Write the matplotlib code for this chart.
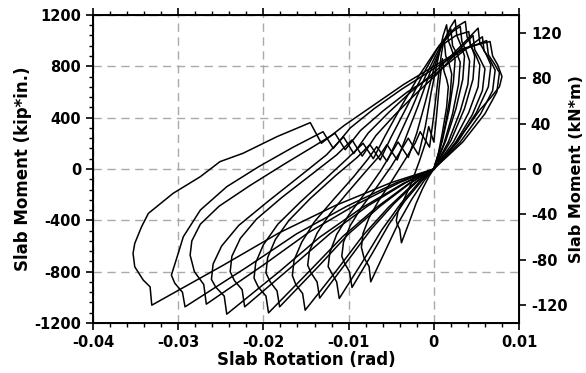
import matplotlib
matplotlib.use("Agg")
import matplotlib.pyplot as plt
from matplotlib.ticker import MultipleLocator, FixedLocator

plt.rcParams['font.family'] = ['DejaVu Sans']
plt.rcParams['font.weight'] = 'bold'
plt.rcParams['axes.unicode_minus'] = False

loop01_rot = [0, -0.00057, -0.00133, -0.00209, -0.00285, -0.0038, -0.0040, -0.0043, -0.0044,
              -0.0042, -0.0036, -0.0027, -0.0017, -0.0010, -0.0006, 0.0000, 0.0003, 0.0006, 0.0010,
              0.0012, 0.0015, 0.0017, 0.0015, 0.0010, 0.0005, 0]
loop01_mom = [0, -58, -155, -270, -408, -575, -470, -430, -400,
              -330, -250, -120, 60, 200, 330, 210, 400, 620, 860,
              760, 700, 640, 480, 280, 110, 0]

loop02_rot = [0, -0.0011, -0.0026, -0.0041, -0.0056, -0.0074, -0.0076, -0.0082, -0.0085,
              -0.0083, -0.0076, -0.0065, -0.0050, -0.0033, -0.0022, -0.0016, -0.0005, 0.0000, 0.0005,
              0.0009, 0.0012, 0.0014, 0.0018, 0.0021, 0.0019, 0.0014, 0.0007, 0]
loop02_mom = [0, -88, -237, -413, -624, -879, -760, -690, -610,
              -500, -380, -250, -100, 80, 200, 290, 170, 420, 700,
              900, 1010, 880, 820, 740, 560, 360, 150, 0]

loop03_rot = [0, -0.0014, -0.0034, -0.0053, -0.0072, -0.0096, -0.0099, -0.0105, -0.0108,
              -0.0106, -0.0098, -0.0085, -0.0068, -0.0050, -0.0038, -0.0030, -0.0018, -0.0010, -0.0003,
              0.0005, 0.0011, 0.0015, 0.0017, 0.0021, 0.0025, 0.0023, 0.0018, 0.0010, 0]
loop03_mom = [0, -92, -249, -434, -655, -923, -800, -730, -680,
              -570, -440, -300, -150, 20, 150, 240, 110, 330, 600,
              860, 1040, 1123, 1000, 930, 850, 680, 460, 220, 0]

loop04_rot = [0, -0.0017, -0.0039, -0.0061, -0.0083, -0.0111, -0.0114, -0.0120, -0.0124,
              -0.0122, -0.0114, -0.0100, -0.0082, -0.0063, -0.0050, -0.0042, -0.0030, -0.0020, -0.0010,
              0.0000, 0.0010, 0.0020, 0.0022, 0.0027, 0.0031, 0.0029, 0.0022, 0.0012, 0]
loop04_mom = [0, -101, -272, -474, -716, -1009, -880, -810, -760,
              -650, -510, -360, -200, -20, 120, 210, 90, 280, 520,
              780, 980, 1090, 960, 900, 830, 660, 430, 200, 0]

loop05_rot = [0, -0.0020, -0.0047, -0.0074, -0.0101, -0.0134, -0.0137, -0.0144, -0.0148,
              -0.0146, -0.0137, -0.0122, -0.0102, -0.0080, -0.0064, -0.0055, -0.0043, -0.0032, -0.0018,
              -0.0004, 0.0012, 0.0020, 0.0025, 0.0027, 0.0032, 0.0036, 0.0034, 0.0026, 0.0014, 0]
loop05_mom = [0, -101, -272, -473, -714, -1006, -880, -810, -750,
              -640, -500, -350, -190, -20, 100, 190, 70, 260, 500,
              760, 1000, 1110, 1162, 1040, 960, 880, 700, 470, 220, 0]

loop06_rot = [0, -0.0023, -0.0053, -0.0083, -0.0113, -0.0151, -0.0154, -0.0162, -0.0166,
              -0.0164, -0.0155, -0.0140, -0.0118, -0.0094, -0.0077, -0.0067, -0.0055, -0.0042, -0.0026,
              -0.0010, 0.0008, 0.0022, 0.0031, 0.0033, 0.0038, 0.0042, 0.0040, 0.0031, 0.0017, 0]
loop06_mom = [0, -110, -297, -517, -781, -1100, -970, -900, -830,
              -710, -570, -410, -240, -60, 80, 174, 60, 240, 470,
              720, 960, 1070, 1110, 990, 920, 840, 660, 450, 210, 0]

loop07_rot = [0, -0.0027, -0.0063, -0.0100, -0.0136, -0.0181, -0.0184, -0.0192, -0.0197,
              -0.0195, -0.0186, -0.0170, -0.0145, -0.0115, -0.0090, -0.0075, -0.0063, -0.0050, -0.0032,
              -0.0014, 0.0006, 0.0025, 0.0037, 0.0039, 0.0044, 0.0048, 0.0046, 0.0036, 0.0020, 0]
loop07_mom = [0, -107, -290, -505, -763, -1074, -950, -880, -810,
              -690, -550, -400, -230, -50, 90, 190, 70, 250, 480,
              720, 960, 1100, 1149, 1030, 960, 880, 700, 470, 220, 0]

loop08_rot = [0, -0.0029, -0.0068, -0.0107, -0.0146, -0.0194, -0.0197, -0.0206, -0.0211,
              -0.0209, -0.0200, -0.0183, -0.0157, -0.0126, -0.0100, -0.0083, -0.0071, -0.0057, -0.0038,
              -0.0018, 0.0004, 0.0026, 0.0041, 0.0043, 0.0049, 0.0054, 0.0052, 0.0041, 0.0023, 0]
loop08_mom = [0, -112, -303, -527, -796, -1121, -990, -920, -850,
              -730, -590, -430, -260, -70, 90, 200, 80, 260, 490,
              720, 940, 1040, 1070, 960, 890, 810, 640, 440, 210, 0]

loop09_rot = [0, -0.0033, -0.0078, -0.0122, -0.0167, -0.0222, -0.0225, -0.0234, -0.0239,
              -0.0237, -0.0227, -0.0208, -0.0178, -0.0143, -0.0114, -0.0096, -0.0084, -0.0068, -0.0046,
              -0.0022, 0.0004, 0.0030, 0.0046, 0.0048, 0.0054, 0.0060, 0.0057, 0.0045, 0.0025, 0]
loop09_mom = [0, -107, -290, -505, -763, -1074, -940, -870, -800,
              -680, -540, -390, -220, -40, 110, 226, 100, 260, 420,
              580, 740, 930, 1040, 930, 860, 780, 610, 420, 200, 0]

loop10_rot = [0, -0.0036, -0.0085, -0.0134, -0.0182, -0.0243, -0.0246, -0.0256, -0.0261,
              -0.0259, -0.0249, -0.0229, -0.0196, -0.0158, -0.0126, -0.0106, -0.0094, -0.0077, -0.0053,
              -0.0027, 0.0002, 0.0032, 0.0052, 0.0054, 0.0061, 0.0067, 0.0064, 0.0050, 0.0028, 0]
loop10_mom = [0, -113, -305, -532, -803, -1131, -990, -920, -860,
              -740, -600, -440, -260, -60, 110, 250, 120, 280, 440,
              600, 760, 960, 1097, 980, 900, 810, 640, 440, 210, 0]

loop11_rot = [0, -0.0040, -0.0093, -0.0147, -0.0200, -0.0267, -0.0270, -0.0281, -0.0286,
              -0.0284, -0.0274, -0.0252, -0.0216, -0.0175, -0.0140, -0.0116, -0.0104, -0.0086, -0.0060,
              -0.0031, 0.0000, 0.0035, 0.0057, 0.0059, 0.0066, 0.0072, 0.0069, 0.0055, 0.0031, 0]
loop11_mom = [0, -105, -284, -495, -748, -1053, -900, -800, -671,
              -560, -430, -290, -130, 40, 180, 278, 150, 300, 450,
              600, 730, 920, 1030, 920, 850, 770, 610, 430, 210, 0]

loop12_rot = [0, -0.0044, -0.0102, -0.0161, -0.0219, -0.0292, -0.0295, -0.0304, -0.0308,
              -0.0302, -0.0294, -0.0274, -0.0243, -0.0205, -0.0165, -0.0130, -0.0118, -0.0098, -0.0070,
              -0.0038, -0.0005, 0.0035, 0.0062, 0.0064, 0.0071, 0.0077, 0.0074, 0.0060, 0.0034, 0]
loop12_mom = [0, -107, -290, -505, -763, -1074, -960, -890, -827,
              -700, -528, -320, -138, 20, 170, 290, 160, 320, 470,
              620, 760, 930, 1000, 890, 820, 750, 600, 430, 210, 0]

loop13_rot = [0, -0.0050, -0.0116, -0.0182, -0.0248, -0.0331, -0.0333, -0.0341, -0.0351, -0.0353,
              -0.0351, -0.0343, -0.0335, -0.0306, -0.0274, -0.0251, -0.0224, -0.0184, -0.0145,
              -0.0132, -0.0105, -0.0070, -0.0035, 0.0000, 0.0035, 0.0066, 0.0069, 0.0075, 0.0080,
              0.0077, 0.0066, 0.0054, 0.0040, 0.0025, 0.0012, 0]
loop13_mom = [0, -106, -286, -499, -753, -1061, -918, -866, -762, -658,
              -580, -450, -346, -190, -60, 57, 122, 252, 361,
              200, 340, 500, 660, 800, 940, 993, 880, 810, 720,
              640, 550, 460, 330, 200, 90, 0]

loops = [(loop01_rot, loop01_mom), (loop02_rot, loop02_mom), (loop03_rot, loop03_mom),
         (loop04_rot, loop04_mom), (loop05_rot, loop05_mom), (loop06_rot, loop06_mom),
         (loop07_rot, loop07_mom), (loop08_rot, loop08_mom), (loop09_rot, loop09_mom),
         (loop10_rot, loop10_mom), (loop11_rot, loop11_mom), (loop12_rot, loop12_mom),
         (loop13_rot, loop13_mom)]

x_ticks = [-0.04, -0.03, -0.02, -0.01, 0, 0.01]
x_labels = ['-0.04', '-0.03', '-0.02', '-0.01', '0', '0.01']
kipin_to_knm = 0.11298

fig = plt.figure(figsize=(5.86, 3.73), dpi=100)
ax = fig.add_axes([0.1587, 0.134, 0.727, 0.826])

for rot, mom in loops:
    ax.plot(rot, mom, color='black', linewidth=1.1)

ax.set_xlim(-0.04, 0.01)
ax.set_ylim(-1200, 1200)
ax.xaxis.set_major_locator(FixedLocator(x_ticks))
ax.set_xticklabels(x_labels)
ax.xaxis.set_minor_locator(MultipleLocator(0.002))
ax.yaxis.set_major_locator(MultipleLocator(400))
ax.yaxis.set_minor_locator(MultipleLocator(80))
ax.grid(True, which='major', color='#aaaaaa', linestyle=(0, (6, 4)), linewidth=1.0)
ax.tick_params(which='major', direction='out', length=5, width=1.2, labelsize=10.5,
               top=True, right=False)
ax.tick_params(which='minor', direction='out', length=3, width=1.0, top=True, right=False)
for sp in ax.spines.values():
    sp.set_linewidth(1.4)

ax.set_xlabel('Slab Rotation (rad)', fontsize=12, fontweight='bold', labelpad=1)
ax.set_ylabel('Slab Moment (kip*in.)', fontsize=12, fontweight='bold', labelpad=2)

ax2 = ax.twinx()
ax2.set_ylim(-1200 * kipin_to_knm, 1200 * kipin_to_knm)
ax2.yaxis.set_major_locator(MultipleLocator(40))
ax2.tick_params(direction='out', length=5, width=1.2, labelsize=10.5)
ax2.set_ylabel('Slab Moment (kN*m)', fontsize=11.5, fontweight='bold', labelpad=1)

fig.savefig('out.png', dpi=100)
